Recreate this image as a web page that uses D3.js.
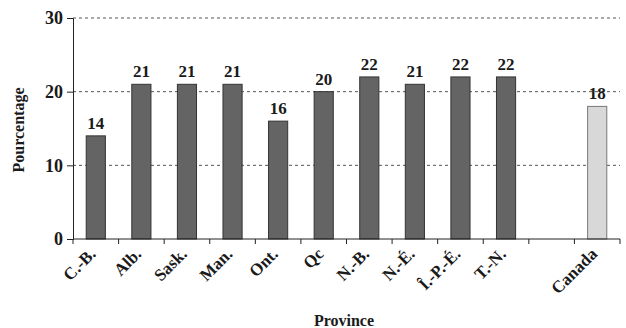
<!DOCTYPE html>
<html><head><meta charset="utf-8">
<script src="https://cdn.jsdelivr.net/npm/d3@7"></script>
<style>body{margin:0;background:#fff}svg{display:block}text{font-family:"Liberation Serif","Times New Roman",serif;font-weight:bold;fill:#1a1a1a}</style>
</head><body>
<svg id="c" width="626" height="328"></svg>
<script>
const categories = ["C.-B.","Alb.","Sask.","Man.","Ont.","Qc","N.-B.","N.-É.","Î.-P.-É.","T.-N.","","Canada"];
const values = [14,21,21,21,16,20,22,21,22,22,null,18];
const highlight = ["Canada"];
const yTicks = [0,10,20,30];

const svg = d3.select("#c");
const m = {l:73, r:6, t:18, b:89};
const W = 626, H = 328;
const x = d3.scaleBand().domain(categories).range([m.l, W - m.r]).paddingInner(0.58).paddingOuter(0.29);
const xt = d3.scaleBand().domain(categories).range([m.l, W - m.r]);
const y = d3.scaleLinear().domain([0,30]).range([H - m.b, m.t]);

// grid
svg.append("g").selectAll("line").data(yTicks.filter(d=>d>0)).join("line")
  .attr("x1", m.l).attr("x2", W - m.r)
  .attr("y1", d=>y(d)).attr("y2", d=>y(d))
  .attr("stroke","#555").attr("stroke-width",1).attr("stroke-dasharray","3,3");

// bars
const data = categories.map((c,i)=>({c, v:values[i]})).filter(d=>d.v!=null);
svg.append("g").selectAll("rect").data(data).join("rect")
  .attr("x", d=>x(d.c)).attr("width", x.bandwidth())
  .attr("y", d=>y(d.v)).attr("height", d=>y(0)-y(d.v))
  .attr("fill", d=>highlight.includes(d.c) ? "#d8d8d8" : "#646464")
  .attr("stroke", d=>highlight.includes(d.c) ? "#777" : "#333").attr("stroke-width",1);

// value labels
svg.append("g").selectAll("text").data(data).join("text")
  .attr("x", d=>x(d.c)+x.bandwidth()/2).attr("y", d=>y(d.v)-7)
  .attr("text-anchor","middle").style("font-size","17px").text(d=>d.v);

// y axis
const ya = svg.append("g").attr("transform",`translate(${m.l},0)`)
  .call(d3.axisLeft(y).tickValues(yTicks).tickSize(6).tickPadding(4));
ya.selectAll("text").style("font-size","18px");
ya.selectAll("line,path").attr("stroke","#222");

// x axis (ticks at band boundaries)
const xa = svg.append("g").attr("transform",`translate(0,${y(0)})`);
xa.append("line").attr("x1",m.l).attr("x2",W-m.r).attr("stroke","#222");
const bounds = categories.map(c=>xt(c)).concat([W-m.r]);
xa.selectAll("line.tk").data(bounds).join("line").attr("class","tk")
  .attr("x1",d=>d).attr("x2",d=>d).attr("y1",0).attr("y2",5).attr("stroke","#222");
xa.selectAll("text").data(categories).join("text")
  .attr("transform", c=>`translate(${xt(c)+xt.bandwidth()/2+1},${16}) rotate(-45)`)
  .attr("text-anchor","end").style("font-size","17px").text(c=>c);

// axis titles
svg.append("text").attr("x", 344).attr("y", 326).attr("text-anchor","middle").style("font-size","16px").text("Province");
svg.append("text").attr("transform","translate(24,130) rotate(-90)").attr("text-anchor","middle").style("font-size","16px").text("Pourcentage");
</script>
</body></html>
